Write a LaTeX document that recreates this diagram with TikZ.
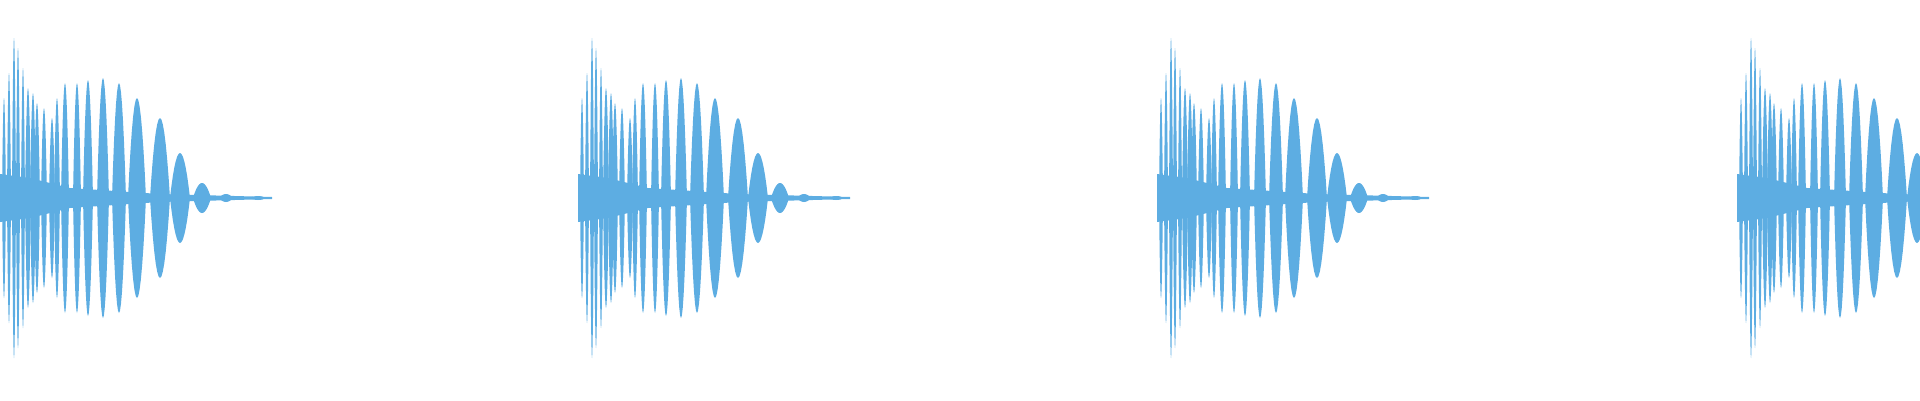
\documentclass[tikz,border=0pt]{standalone}
\usetikzlibrary{positioning}
\definecolor{wave}{RGB}{93,173,226}
\tikzset{lobe/.style={fill=wave, draw=none}}
\begin{document}
\begin{tikzpicture}[x=0.02cm, y=0.02cm]
    % Rahmen
    \useasboundingbox (0,-202) rectangle (1920,198);
    \clip (0,-202) rectangle (1920,198);
    \foreach \o in {0,578,1157,1737} {
        % Mittelband
        \fill[wave] (\o,-24) -- (\o+30,-20) -- (\o+70,-10) -- (\o+160,-4) -- (\o+272,-1)
            -- (\o+272,1) -- (\o+160,4) -- (\o+70,10) -- (\o+30,20) -- (\o,24) -- cycle;
        % Keulen
        \foreach \c/\w/\a in {4/2/100, 9/2/125, 14/2/160, 18/2/150, 23/2/130, 28/3/110,
            33/3/105, 37/3/95, 44/3/90, 52/3/80, 57/3/100, 65/4/115, 77/4/115,
            88/5/118, 103/6/120, 119/7/115, 137/9/100, 160/10/80, 180/10/45,
            202/9/15, 226/7/4, 258/8/2} {
            \fill[lobe] plot[domain=-1:1, samples=15] ({\o+\c+\w*\x}, {\a*(1-\x*\x)})
                -- plot[domain=1:-1, samples=15] ({\o+\c+\w*\x}, {-\a*(1-\x*\x)}) -- cycle;
        }
    }
\end{tikzpicture}
\end{document}
